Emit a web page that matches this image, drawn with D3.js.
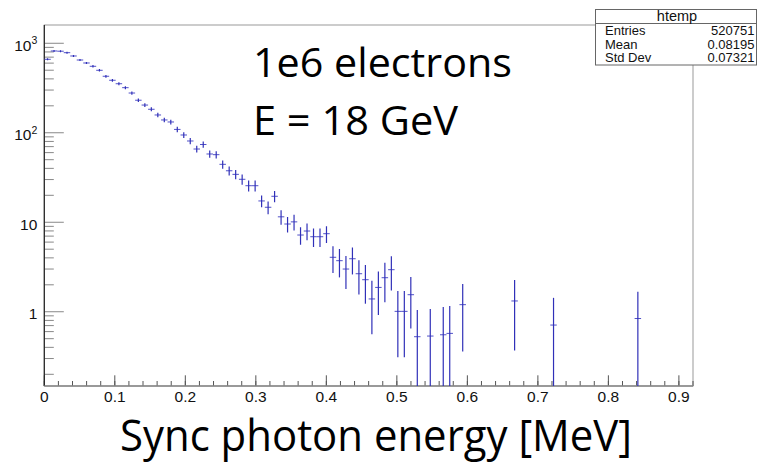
<!DOCTYPE html>
<html lang="en">
<head>
    <meta charset="UTF-8">
    <title>Sync photon energy</title>
    <script src="https://d3js.org/d3.v7.min.js"></script>
    <style>
        body {
            margin: 0;
            background: #fff;
        }
        svg { display: block; }
        .axis-label {
            font-family: 'Liberation Sans', Arial, sans-serif;
            font-size: 15.5px;
            fill: #111;
        }
        .stats text {
            font-family: 'Liberation Sans', Arial, sans-serif;
            font-size: 13px;
            fill: #111;
        }
        .note {
            font-family: 'Open Sans', sans-serif;
            fill: #000;
        }
    </style>
</head>
<body>
<svg id="chart" width="757" height="463"></svg>
<script>
    // histogram: 100 bins over [0, 0.92] MeV, weighted entries (0 = empty bin)
    const xRange = [0, 0.92];
    const binCounts = [
        662, 820, 815, 785, 721, 650, 602, 553, 499, 428,
        386, 353, 319, 278, 231, 204, 183, 158, 139, 132,
        109, 94.4, 80.9, 65.8, 73.9, 57.9, 56.9, 44.4, 37.6, 34.3,
        30.2, 25.6, 25.6, 17.3, 14.7, 19.5, 11.5, 9.56, 10.1, 7.2,
        7.98, 6.89, 6.89, 7.45, 4.06, 3.72, 3.0, 3.91, 2.66, 2.28,
        1.39, 1.87, 2.40, 2.95, 1.01, 1.01, 1.55, 0.526, 0, 0.535,
        0, 0.553, 0.573, 0, 1.2, 0, 0, 0, 0, 0,
        0, 0, 1.32, 0, 0, 0, 0, 0, 0.71, 0,
        0, 0, 0, 0, 0, 0, 0, 0, 0, 0,
        0, 0.84, 0, 0, 0, 0, 0, 0, 0, 0
    ];
    const binErrors = [
        18, 20, 20, 20, 19, 18, 17, 17, 16, 15,
        14, 13, 12.6, 11.8, 11, 10, 9.6, 8.9, 8.3, 8.1,
        7.4, 6.9, 6.4, 5.7, 6.1, 5.4, 5.3, 4.7, 4.3, 4.1,
        3.9, 3.6, 3.6, 2.6, 2.4, 2.8, 2.1, 1.9, 2.0, 1.6,
        1.7, 1.6, 1.6, 1.6, 1.35, 1.3, 1.2, 1.3, 1.1, 1.05,
        0.83, 0.95, 1.12, 1.22, 0.7, 0.7, 0.9, 0.52, 0, 0.54,
        0, 0.58, 0.59, 0, 0.84, 0, 0, 0, 0, 0,
        0, 0, 0.95, 0, 0, 0, 0, 0, 0.72, 0,
        0, 0, 0, 0, 0, 0, 0, 0, 0, 0,
        0, 0.83, 0, 0, 0, 0, 0, 0, 0, 0
    ];

    const xTickValues = [0, 0.1, 0.2, 0.3, 0.4, 0.5, 0.6, 0.7, 0.8, 0.9];
    const xTickLabels = ["0", "0.1", "0.2", "0.3", "0.4", "0.5", "0.6", "0.7", "0.8", "0.9"];
    const yTickValues = [1, 10, 100, 1000];
    const yTickLabels = [["1", ""], ["10", ""], ["10", "2"], ["10", "3"]];

    const statsTitle = "htemp";
    const statsRows = [["Entries", "520751"], ["Mean", "0.08195"], ["Std Dev", "0.07321"]];
    const noteLines = ["1e6 electrons", "E = 18 GeV"];
    const xTitle = "Sync photon energy [MeV]";

    const frame = { left: 44.3, right: 693, top: 25, bottom: 386 };
    const svg = d3.select("#chart");

    const x = d3.scaleLinear().domain(xRange).range([frame.left, frame.right]);
    const y = d3.scaleLog().domain([0.148, 1600]).range([frame.bottom, frame.top]);

    const binWidth = (xRange[1] - xRange[0]) / binCounts.length;
    const bins = binCounts.map((c, i) => ({
        lo: xRange[0] + i * binWidth,
        hi: xRange[0] + (i + 1) * binWidth,
        c: c,
        e: binErrors[i]
    })).filter(d => d.c > 0);

    // frame
    svg.append("rect")
        .attr("x", frame.left).attr("y", frame.top)
        .attr("width", frame.right - frame.left)
        .attr("height", frame.bottom - frame.top)
        .attr("fill", "none").attr("stroke", "#999").attr("stroke-width", 1);

    svg.append("clipPath").attr("id", "plot-clip")
        .append("rect")
        .attr("x", frame.left).attr("y", frame.top)
        .attr("width", frame.right - frame.left)
        .attr("height", frame.bottom - frame.top);

    // y ticks (log, majors + 2..9 minors)
    const yMinor = [];
    [0.1, 1, 10, 100, 1000].forEach(dec => {
        for (let k = 2; k <= 9; k++) {
            const v = k * dec;
            if (v >= y.domain()[0] && v <= y.domain()[1]) yMinor.push(v);
        }
    });
    svg.append("g").selectAll("line.ymin")
        .data(yMinor).join("line")
        .attr("x1", frame.left).attr("x2", frame.left + 9.5)
        .attr("y1", d => y(d)).attr("y2", d => y(d))
        .attr("stroke", "#888").attr("stroke-width", 1);
    svg.append("g").selectAll("line.ymaj")
        .data(yTickValues).join("line")
        .attr("x1", frame.left).attr("x2", frame.left + 19.5)
        .attr("y1", d => y(d)).attr("y2", d => y(d))
        .attr("stroke", "#888").attr("stroke-width", 1);

    // x ticks every 0.02, majors every 0.1
    const xMinor = d3.range(0, 47).map(i => i * 0.02).filter(v => v <= xRange[1]);
    svg.append("g").selectAll("line.xmin")
        .data(xMinor).join("line")
        .attr("x1", d => x(d)).attr("x2", d => x(d))
        .attr("y1", frame.bottom).attr("y2", frame.bottom - 5)
        .attr("stroke", "#555").attr("stroke-width", 1);
    svg.append("g").selectAll("line.xmaj")
        .data(xTickValues).join("line")
        .attr("x1", d => x(d)).attr("x2", d => x(d))
        .attr("y1", frame.bottom).attr("y2", frame.bottom - 10.7)
        .attr("stroke", "#555").attr("stroke-width", 1);

    // axis lines
    svg.append("line")
        .attr("x1", frame.left).attr("x2", frame.left)
        .attr("y1", frame.top).attr("y2", frame.bottom)
        .attr("stroke", "#222").attr("stroke-width", 1.2);
    svg.append("line")
        .attr("x1", frame.left).attr("x2", frame.right)
        .attr("y1", frame.bottom).attr("y2", frame.bottom)
        .attr("stroke", "#888").attr("stroke-width", 1.5);

    // tick labels
    svg.append("g").selectAll("text")
        .data(xTickValues).join("text")
        .attr("class", "axis-label")
        .attr("x", d => x(d)).attr("y", 401.5)
        .attr("text-anchor", "middle")
        .text((d, i) => xTickLabels[i]);

    const yl = svg.append("g").selectAll("text")
        .data(yTickValues).join("text")
        .attr("class", "axis-label")
        .attr("x", 37.3).attr("y", d => y(d) + 7.5)
        .attr("text-anchor", "end");
    yl.append("tspan").text((d, i) => yTickLabels[i][0]);
    yl.filter((d, i) => yTickLabels[i][1] !== "")
        .append("tspan")
        .attr("dy", -6.5).attr("font-size", "10.5px")
        .text(d => yTickLabels[yTickValues.indexOf(d)][1]);

    // histogram error bars
    const hist = svg.append("g").attr("clip-path", "url(#plot-clip)");
    hist.selectAll("line.h")
        .data(bins).join("line")
        .attr("x1", d => x(d.lo)).attr("x2", d => x(d.hi))
        .attr("y1", d => y(d.c)).attr("y2", d => y(d.c))
        .attr("stroke", "#5050c8").attr("stroke-width", 1);
    hist.selectAll("line.v")
        .data(bins).join("line")
        .attr("x1", d => x((d.lo + d.hi) / 2)).attr("x2", d => x((d.lo + d.hi) / 2))
        .attr("y1", d => d.c - d.e > y.domain()[0] ? y(d.c - d.e) : frame.bottom)
        .attr("y2", d => y(d.c + d.e))
        .attr("stroke", "#3030b8").attr("stroke-width", 1.2);

    // stats box
    const stats = svg.append("g").attr("class", "stats");
    stats.append("rect")
        .attr("x", 595.5).attr("y", 9.5)
        .attr("width", 161).attr("height", 55.5)
        .attr("fill", "#fff").attr("stroke", "#666").attr("stroke-width", 1);
    stats.append("line")
        .attr("x1", 595.5).attr("x2", 757)
        .attr("y1", 23.5).attr("y2", 23.5)
        .attr("stroke", "#666");
    stats.append("text")
        .attr("x", 677).attr("y", 20.5)
        .attr("text-anchor", "middle").style("font-size", "14.5px")
        .text(statsTitle);
    statsRows.forEach((r, i) => {
        stats.append("text").attr("x", 605).attr("y", 35 + i * 13.5).text(r[0]);
        stats.append("text").attr("x", 754.5).attr("y", 35 + i * 13.5)
            .attr("text-anchor", "end").text(r[1]);
    });

    // overlay notes
    svg.append("text").attr("class", "note")
        .attr("x", 253).attr("y", 77.3)
        .attr("font-size", 40.5)
        .attr("textLength", 259).attr("lengthAdjust", "spacingAndGlyphs")
        .text(noteLines[0]);
    svg.append("text").attr("class", "note")
        .attr("x", 253).attr("y", 135)
        .attr("font-size", 40.5)
        .attr("textLength", 205).attr("lengthAdjust", "spacingAndGlyphs")
        .text(noteLines[1]);

    // x title
    svg.append("text").attr("class", "note")
        .attr("x", 120).attr("y", 451)
        .attr("font-size", 44)
        .attr("textLength", 512).attr("lengthAdjust", "spacingAndGlyphs")
        .text(xTitle);
</script>
</body>
</html>
